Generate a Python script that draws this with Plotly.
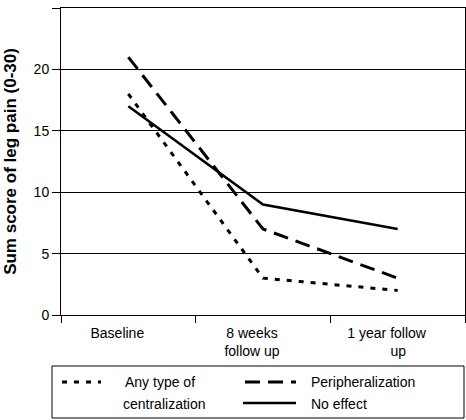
import plotly.graph_objects as go

categories = ["Baseline", "8 weeks follow up", "1 year follow up"]
tick_labels = ["Baseline", "8 weeks<br>follow up", "1 year follow<br>\u00a0\u00a0\u00a0\u00a0\u00a0\u00a0up"]
centralization = [18, 3, 2]
peripheralization = [21, 7, 3]
no_effect = [17, 9, 7]
y_ticks = [0, 5, 10, 15, 20, 25]

W, H = 466, 420
L, R, T, B = 61, 1, 8, 105
pw, ph = W - L - R, H - T - B

def px(x):
    return (x - L) / pw

def py(y):
    return (H - B - y) / ph

FONT = "Liberation Sans, Arial, sans-serif"

fig = go.Figure()
fig.add_trace(go.Scatter(x=categories, y=centralization, mode="lines",
                         line=dict(color="black", width=3, dash="5px,7px"),
                         name="Any type of centralization", showlegend=False))
fig.add_trace(go.Scatter(x=categories, y=peripheralization, mode="lines",
                         line=dict(color="black", width=3, dash="15px,8px"),
                         name="Peripheralization", showlegend=False))
fig.add_trace(go.Scatter(x=categories, y=no_effect, mode="lines",
                         line=dict(color="black", width=2.5),
                         name="No effect", showlegend=False))

fig.update_layout(
    width=W, height=H,
    margin=dict(l=L, r=R, t=T, b=B, autoexpand=False),
    paper_bgcolor="white", plot_bgcolor="white",
    font=dict(family=FONT, size=14, color="black"),
    xaxis=dict(type="category", categoryorder="array", categoryarray=categories,
               tickvals=categories, ticktext=tick_labels,
               range=[-0.5, 2.5], tickson="boundaries", ticks="outside", ticklen=7,
               tickcolor="black", tickwidth=1, showgrid=False,
               showline=True, linecolor="black", linewidth=1, mirror=True,
               ticklabelshift=-11, ticklabelstandoff=5,
               tickfont=dict(size=14), automargin=False),
    yaxis=dict(range=[0, 25], tickvals=y_ticks, ticks="outside", ticklen=8,
               tickcolor="black", showgrid=True, gridcolor="black", gridwidth=1,
               showline=True, linecolor="black", linewidth=1, mirror=True,
               zeroline=False, tickfont=dict(size=14), automargin=False,
               title=dict(text="<b>Sum score of leg pain (0-30)</b>",
                          font=dict(size=17), standoff=12)),
)

# manual legend box
fig.add_shape(type="rect", xref="paper", yref="paper",
              x0=px(52), x1=px(464), y0=py(366), y1=py(418),
              line=dict(color="black", width=1), fillcolor="white")
fig.add_shape(type="line", xref="paper", yref="paper",
              x0=px(62), x1=px(101), y0=py(382), y1=py(382),
              line=dict(color="black", width=3, dash="5px,7px"))
fig.add_shape(type="line", xref="paper", yref="paper",
              x0=px(245), x1=px(296), y0=py(382), y1=py(382),
              line=dict(color="black", width=3, dash="15px,8px"))
fig.add_shape(type="line", xref="paper", yref="paper",
              x0=px(243), x1=px(296), y0=py(403), y1=py(403),
              line=dict(color="black", width=2.5))

for text, x, y in [("Any type of", 123, 382), ("centralization", 121, 404),
                   ("Peripheralization", 309, 382), ("No effect", 309, 404)]:
    fig.add_annotation(text=text, xref="paper", yref="paper", x=px(x), y=py(y),
                       xanchor="left", yanchor="middle", showarrow=False,
                       font=dict(size=14, family=FONT))

fig.write_html("out.html", config={"displayModeBar": False},
               post_script="document.body.style.margin='0';")
